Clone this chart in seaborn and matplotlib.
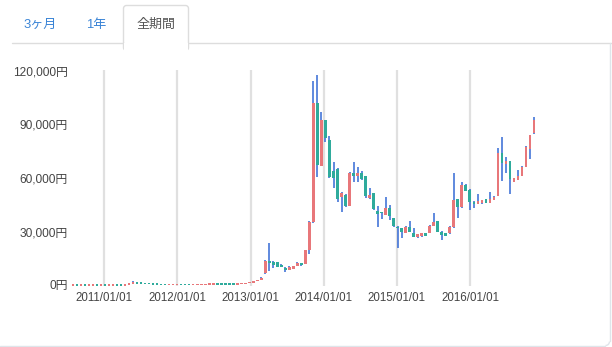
import numpy as np
import pandas as pd
import matplotlib
matplotlib.use("Agg")
import matplotlib.pyplot as plt
from matplotlib.patches import FancyBboxPatch, Rectangle, Arc
import seaborn as sns

# ---------------- data ----------------
start_date = "2010-07-30"
period = "20D"

open_ = [5, 6, 5, 6, 5, 9, 20, 18, 23, 22,
         35, 75, 68, 65, 95, 900, 1300, 1050, 1000, 800,
         650, 500, 400, 300, 240, 250, 330, 450, 420, 400,
         380, 400, 410, 420, 440, 520, 700, 640, 620, 600,
         590, 560, 600, 800, 1000, 1500, 2100, 2900, 6500, 13400,
         12900, 12700, 11300, 9700, 8400, 9000, 10600, 12500, 11800, 19600,
         35500, 101900, 66700, 92500, 81300, 64000, 65000, 49100, 50500, 44500,
         62600, 61100, 62600, 61100, 48600, 51400, 41700, 40700, 39200, 43000,
         37400, 32700, 31800, 29300, 32700, 29300, 26700, 27300, 29000, 29300,
         33100, 35900, 29900, 29000, 29000, 32300, 48000, 43600, 56100, 53300,
         46700, 45400, 45800, 48000, 46200, 47700, 49900, 73800, 67800, 69600,
         57900, 58900, 61100, 66300, 76100, 85100]
close = [6, 5, 6, 5, 9, 20, 18, 23, 22, 35,
         75, 68, 65, 95, 900, 1300, 1050, 1000, 800, 650,
         500, 400, 300, 240, 250, 330, 450, 420, 400, 380,
         400, 410, 420, 440, 520, 650, 620, 600, 580, 570,
         560, 600, 800, 1000, 1500, 2100, 2900, 4200, 13600, 12300,
         11000, 10300, 10300, 8400, 10300, 10600, 12500, 11000, 19600, 35500,
         101900, 67300, 92500, 82300, 60700, 59800, 48500, 51400, 44500, 63000,
         61100, 62600, 59300, 49900, 50500, 42400, 39800, 40300, 43000, 38900,
         33100, 31800, 29900, 32700, 29900, 27100, 28400, 28900, 27500, 33100,
         35500, 29900, 28000, 27500, 32300, 47700, 43600, 56100, 52900, 46700,
         45400, 47100, 47700, 46200, 48000, 49500, 73800, 68600, 69600, 59300,
         59800, 61100, 66300, 77600, 84100, 92500]
high = [7, 7, 7, 7, 10, 25, 22, 25, 26, 38,
        85, 78, 72, 110, 950, 2500, 1400, 1150, 1050, 850,
        700, 520, 420, 320, 280, 350, 480, 500, 440, 420,
        410, 420, 430, 450, 540, 680, 750, 680, 650, 640,
        620, 620, 820, 1050, 1550, 2200, 3000, 4400, 14000, 23400,
        13400, 12900, 11600, 10300, 10400, 10800, 13000, 12600, 19800, 35800,
        114600, 117700, 97200, 92800, 83500, 69100, 65400, 52000, 50800, 63200,
        69100, 66300, 64000, 61300, 54200, 51600, 44300, 41100, 49500, 44900,
        37600, 32900, 32000, 32900, 35900, 31800, 28600, 29100, 29200, 33500,
        40500, 36100, 30100, 29200, 33000, 62600, 48200, 57900, 56800, 54000,
        46900, 51000, 47900, 48200, 52000, 49700, 76600, 82800, 72000, 69800,
        60000, 64500, 66500, 77800, 84300, 94200]
low = [5, 5, 5, 4, 5, 9, 15, 17, 20, 21,
       34, 60, 55, 62, 90, 850, 950, 900, 750, 600,
       450, 350, 260, 200, 220, 240, 320, 400, 380, 360,
       370, 390, 400, 410, 430, 510, 600, 580, 560, 550,
       540, 550, 590, 790, 990, 1450, 2050, 2850, 6300, 7800,
       9400, 10100, 10000, 7500, 8300, 8900, 10500, 10800, 11600, 17400,
       35000, 60700, 66500, 80400, 59800, 54600, 46700, 41100, 43900, 44300,
       57900, 57900, 59000, 48600, 48400, 42100, 32300, 36800, 39000, 36400,
       32800, 20900, 26200, 29100, 29700, 26700, 26500, 27100, 27300, 29100,
       32900, 29700, 25200, 27300, 28800, 32100, 37400, 43400, 52700, 42100,
       43000, 45200, 45600, 46000, 46000, 47500, 49700, 58300, 63000, 51000,
       57700, 58700, 60900, 66100, 70500, 84900]

ytick_values = [0, 30000, 60000, 90000, 120000]
ytick_labels = ["0円", "30,000円", "60,000円", "90,000円", "120,000円"]
xtick_dates = ["2011-01-01", "2012-01-01", "2013-01-01", "2014-01-01", "2015-01-01", "2016-01-01"]
xtick_labels = ["2011/01/01", "2012/01/01", "2013/01/01", "2014/01/01", "2015/01/01", "2016/01/01"]
tab_labels = ["3ヶ月", "1年", "全期間"]

# ---------------- style ----------------
sns.set_theme(style="white")
plt.rcParams["font.family"] = ["Liberation Sans", "Noto Sans CJK JP", "DejaVu Sans"]

UP = "#e8777a"
DOWN = "#2fab9c"
WICK = "#3c6fd6"
GRID = "#e0e0e0"
TXT = "#444444"

df = pd.DataFrame({"open": open_, "close": close, "high": high, "low": low})
df["date"] = pd.date_range(start_date, periods=len(df), freq=period)
df["up"] = df["close"] >= df["open"]
min_h = 800.0
mid = (df["open"] + df["close"]) / 2
h = (df["close"] - df["open"]).abs()
df["bh"] = np.maximum(h, min_h)
df["bb"] = np.where(h < min_h, mid - min_h / 2, np.minimum(df["open"], df["close"]))

W, H = 612, 347
fig = plt.figure(figsize=(W / 100, H / 100), dpi=100)
fig.patch.set_facecolor("white")

ax_left, ax_right, ax_top, ax_bot = 72, 548, 70, 286
ax = fig.add_axes([ax_left / W, 1 - ax_bot / H, (ax_right - ax_left) / W, (ax_bot - ax_top) / H])
ax.set_facecolor("white")

px_per_day = (470 - 104) / 1826.0
d2011 = pd.Timestamp("2011-01-01")
xl = d2011 - pd.Timedelta(days=(104 - ax_left) / px_per_day)
xr = d2011 + pd.Timedelta(days=(ax_right - 104) / px_per_day)
ax.set_xlim(xl, xr)
val_per_px = 120000 / 214.0
ax.set_ylim(-(ax_bot - 285) * val_per_px, 120000 + (71 - ax_top) * val_per_px)

# wicks and bodies
ax.vlines(df["date"], df["low"], df["high"], color=WICK, linewidth=1.15, zorder=2)
colors = np.where(df["up"], UP, DOWN)
ax.bar(df["date"], df["bh"], bottom=df["bb"], width=13, color=colors, linewidth=0, zorder=3)

ax.set_xticks(pd.to_datetime(xtick_dates))
ax.set_xticklabels(xtick_labels)
ax.set_yticks(ytick_values)
ax.set_yticklabels(ytick_labels)
ax.tick_params(axis="x", length=0, pad=4.5, labelsize=8.3, colors=TXT)
ax.tick_params(axis="y", length=0, pad=3, labelsize=8.6, colors=TXT)
ax.xaxis.grid(True, color=GRID, linewidth=1.6)
ax.yaxis.grid(False)
ax.set_axisbelow(True)
sns.despine(ax=ax, left=True, bottom=True)
ax.set_xlabel("")
ax.set_ylabel("")

# overlay for tabs and card frame (pixel coordinates)
ov = fig.add_axes([0, 0, 1, 1], zorder=-1)
ov.set_xlim(0, W)
ov.set_ylim(H, 0)
ov.axis("off")
LINE = "#dddddd"
ov.plot([12, 123.5], [42.5, 42.5], color=LINE, lw=1.0)
ov.plot([188.5, 612], [42.5, 42.5], color=LINE, lw=1.0)
tab = FancyBboxPatch((123.5, 5.5), 65, 45, boxstyle="round,pad=0,rounding_size=3",
                     facecolor="white", edgecolor=LINE, lw=1.0)
ov.add_patch(tab)
ov.add_patch(Rectangle((124.2, 43), 63.6, 10, facecolor="white", edgecolor="none", zorder=5))
ov.plot([609.5, 609.5], [43, 341], color="#dfe5ea", lw=1.0)
ov.plot([0, 605], [345.5, 345.5], color="#dfe5ea", lw=1.0)
ov.add_patch(Arc((605.5, 341.5), 8, 8, theta1=0, theta2=90, color="#dfe5ea", lw=1.0))

tab_x = [40, 96, 156]
tab_col = ["#3a84d6", "#3a84d6", "#555555"]
for lbl, x, c in zip(tab_labels, tab_x, tab_col):
    ov.text(x, 25, lbl, ha="center", va="center", fontsize=9.4, color=c)

fig.savefig("out.png", dpi=100, facecolor="white")
